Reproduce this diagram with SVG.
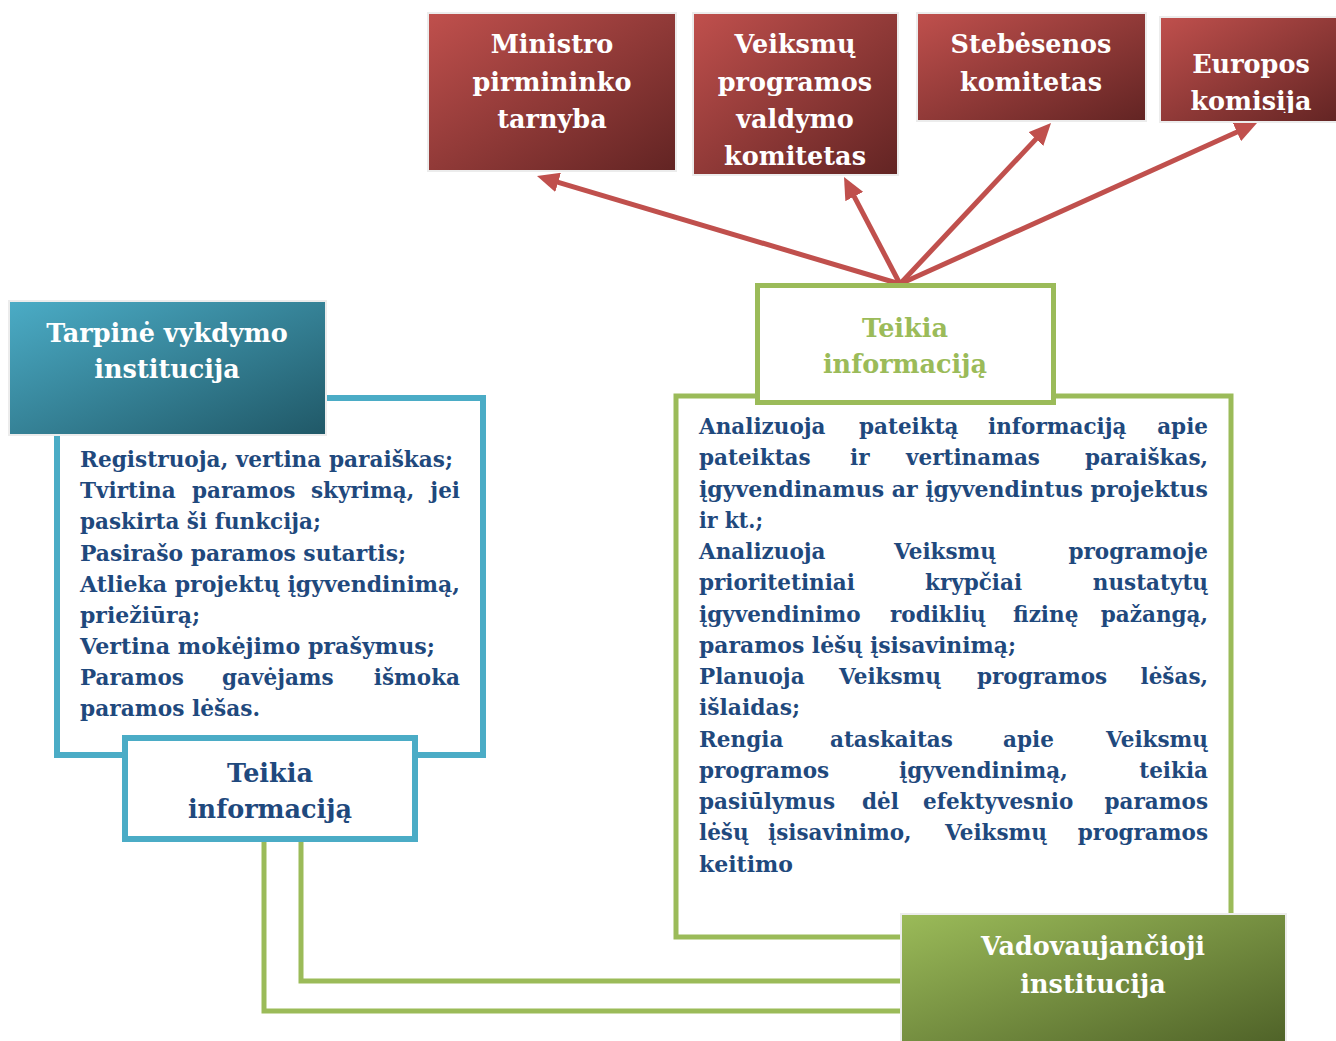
<svg xmlns="http://www.w3.org/2000/svg" width="1336" height="1041" viewBox="0 0 1336 1041">
<style>
.title{font-family:"DejaVu Serif","Liberation Serif",serif;font-weight:bold;font-size:25.5px;fill:#ffffff;text-anchor:middle}
.lbl{font-family:"DejaVu Serif","Liberation Serif",serif;font-weight:bold;font-size:25.5px;text-anchor:middle}
.body{font-family:"DejaVu Serif","Liberation Serif",serif;font-weight:bold;font-size:21.5px;fill:#1f497d}
.end{text-anchor:end}
.red{stroke:#ececec;stroke-width:2}
.arrow{stroke:#c0504d;stroke-width:5;fill:none;marker-end:url(#ah)}
.gconn{stroke:#9bbb59;stroke-width:5;fill:none}
</style>
<defs>
<linearGradient id="gRed" x1="0" y1="0" x2="1" y2="1">
<stop offset="0" stop-color="#c0504d"/><stop offset="1" stop-color="#622423"/>
</linearGradient>
<linearGradient id="gBlue" x1="0" y1="0" x2="1" y2="1">
<stop offset="0" stop-color="#4bacc6"/><stop offset="1" stop-color="#205867"/>
</linearGradient>
<linearGradient id="gGreen" x1="0" y1="0" x2="1" y2="1">
<stop offset="0" stop-color="#9bbb59"/><stop offset="1" stop-color="#4f6228"/>
</linearGradient>
<marker id="ah" markerUnits="userSpaceOnUse" viewBox="0 0 22 20" markerWidth="22" markerHeight="20" refX="5" refY="10" orient="auto">
<path d="M0,0 L22,10 L0,20 z" fill="#c0504d"/>
</marker>
<clipPath id="euClip"><rect x="1160" y="17" width="180" height="96"/></clipPath>
</defs>
<rect width="1336" height="1041" fill="#ffffff"/>

<g id="frame-tarpine">
<rect x="57" y="398" width="426" height="357" fill="#ffffff" stroke="#4bacc6" stroke-width="6"/>
<text class="body" x="80" y="467" textLength="373" lengthAdjust="spacingAndGlyphs">Registruoja, vertina paraiškas;</text>
<text class="body" y="498"><tspan x="80">Tvirtina</tspan><tspan x="192">paramos</tspan><tspan x="311">skyrimą,</tspan><tspan x="460" class="end">jei</tspan></text>
<text class="body" x="80" y="529" textLength="241" lengthAdjust="spacingAndGlyphs">paskirta ši funkcija;</text>
<text class="body" x="80" y="561" textLength="326" lengthAdjust="spacingAndGlyphs">Pasirašo paramos sutartis;</text>
<text class="body" x="80" y="592" textLength="380" lengthAdjust="spacingAndGlyphs">Atlieka projektų įgyvendinimą,</text>
<text class="body" x="80" y="623" textLength="120" lengthAdjust="spacingAndGlyphs">priežiūrą;</text>
<text class="body" x="80" y="654" textLength="355" lengthAdjust="spacingAndGlyphs">Vertina mokėjimo prašymus;</text>
<text class="body" y="685"><tspan x="80">Paramos</tspan><tspan x="222">gavėjams</tspan><tspan x="460" class="end">išmoka</tspan></text>
<text class="body" x="80" y="716" textLength="180" lengthAdjust="spacingAndGlyphs">paramos lėšas.</text>
</g>

<g id="frame-vadovaujancioji">
<rect x="676" y="396" width="555" height="541" fill="#ffffff" stroke="#9bbb59" stroke-width="5"/>
<text class="body" y="434"><tspan x="699">Analizuoja</tspan><tspan x="859">pateiktą</tspan><tspan x="988">informaciją</tspan><tspan x="1208" class="end">apie</tspan></text>
<text class="body" y="465"><tspan x="699">pateiktas</tspan><tspan x="850">ir</tspan><tspan x="906">vertinamas</tspan><tspan x="1208" class="end">paraiškas,</tspan></text>
<text class="body" x="699" y="496.5" textLength="509" lengthAdjust="spacingAndGlyphs">įgyvendinamus ar įgyvendintus projektus</text>
<text class="body" x="699" y="527.5" textLength="64" lengthAdjust="spacingAndGlyphs">ir kt.;</text>
<text class="body" y="559"><tspan x="699">Analizuoja</tspan><tspan x="894">Veiksmų</tspan><tspan x="1208" class="end">programoje</tspan></text>
<text class="body" y="590"><tspan x="699">prioritetiniai</tspan><tspan x="925">krypčiai</tspan><tspan x="1208" class="end">nustatytų</tspan></text>
<text class="body" y="621.5"><tspan x="699">įgyvendinimo</tspan><tspan x="890">rodiklių</tspan><tspan x="1013">fizinę</tspan><tspan x="1208" class="end">pažangą,</tspan></text>
<text class="body" x="699" y="652.5" textLength="317" lengthAdjust="spacingAndGlyphs">paramos lėšų įsisavinimą;</text>
<text class="body" y="684"><tspan x="699">Planuoja</tspan><tspan x="839">Veiksmų</tspan><tspan x="977">programos</tspan><tspan x="1208" class="end">lėšas,</tspan></text>
<text class="body" x="699" y="715" textLength="101" lengthAdjust="spacingAndGlyphs">išlaidas;</text>
<text class="body" y="746.5"><tspan x="699">Rengia</tspan><tspan x="830">ataskaitas</tspan><tspan x="1003">apie</tspan><tspan x="1208" class="end">Veiksmų</tspan></text>
<text class="body" y="777.5"><tspan x="699">programos</tspan><tspan x="899">įgyvendinimą,</tspan><tspan x="1208" class="end">teikia</tspan></text>
<text class="body" y="809"><tspan x="699">pasiūlymus</tspan><tspan x="862">dėl</tspan><tspan x="923">efektyvesnio</tspan><tspan x="1208" class="end">paramos</tspan></text>
<text class="body" y="840"><tspan x="699">lėšų</tspan><tspan x="768">įsisavinimo,</tspan><tspan x="945">Veiksmų</tspan><tspan x="1208" class="end">programos</tspan></text>
<text class="body" x="699" y="871.5" textLength="94" lengthAdjust="spacingAndGlyphs">keitimo</text>
</g>

<g id="connectors">
<path class="gconn" d="M264,842 V1011 H900"/>
<path class="gconn" d="M301,842 V981 H900"/>
<line class="arrow" x1="900" y1="284" x2="553.3" y2="180.9"/>
<line class="arrow" x1="900" y1="284" x2="851.9" y2="192.1"/>
<line class="arrow" x1="900" y1="284" x2="1039.4" y2="135.4"/>
<line class="arrow" x1="900" y1="284" x2="1241.5" y2="130"/>
</g>

<g id="node-ministro">
<rect class="red" x="428" y="13" width="248" height="158" fill="url(#gRed)"/>
<text class="title" x="552" y="53">Ministro</text>
<text class="title" x="552" y="91">pirmininko</text>
<text class="title" x="552" y="128">tarnyba</text>
</g>
<g id="node-veiksmu">
<rect class="red" x="693" y="13" width="205" height="162" fill="url(#gRed)"/>
<text class="title" x="795" y="53">Veiksmų</text>
<text class="title" x="795" y="91">programos</text>
<text class="title" x="795" y="128">valdymo</text>
<text class="title" x="795" y="165">komitetas</text>
</g>
<g id="node-stebesenos">
<rect class="red" x="917" y="13" width="229" height="108" fill="url(#gRed)"/>
<text class="title" x="1031" y="53">Stebėsenos</text>
<text class="title" x="1031" y="91">komitetas</text>
</g>
<g id="node-europos">
<rect class="red" x="1160" y="17" width="180" height="105" fill="url(#gRed)"/>
<text class="title" x="1251" y="73">Europos</text>
<text class="title" x="1251" y="110" clip-path="url(#euClip)">komisija</text>
</g>

<g id="node-tarpine">
<rect x="9" y="301" width="317" height="134" fill="url(#gBlue)" stroke="#ececec" stroke-width="2"/>
<text class="title" x="167" y="342">Tarpinė vykdymo</text>
<text class="title" x="167" y="378">institucija</text>
</g>

<g id="node-teikia-blue">
<rect x="125" y="738" width="290" height="101" fill="#ffffff" stroke="#4bacc6" stroke-width="6"/>
<text class="lbl" x="270" y="782" fill="#1f497d">Teikia</text>
<text class="lbl" x="270" y="818" fill="#1f497d">informaciją</text>
</g>

<g id="node-teikia-green">
<rect x="757.5" y="285.5" width="296" height="117" fill="#ffffff" stroke="#9bbb59" stroke-width="5"/>
<text class="lbl" x="905" y="337" fill="#9bbb59">Teikia</text>
<text class="lbl" x="905" y="373" fill="#9bbb59">informaciją</text>
</g>

<g id="node-vadovaujancioji">
<rect x="901" y="914" width="385" height="130" fill="url(#gGreen)" stroke="#ececec" stroke-width="2"/>
<text class="title" x="1093" y="955">Vadovaujančioji</text>
<text class="title" x="1093" y="993">institucija</text>
</g>
</svg>
